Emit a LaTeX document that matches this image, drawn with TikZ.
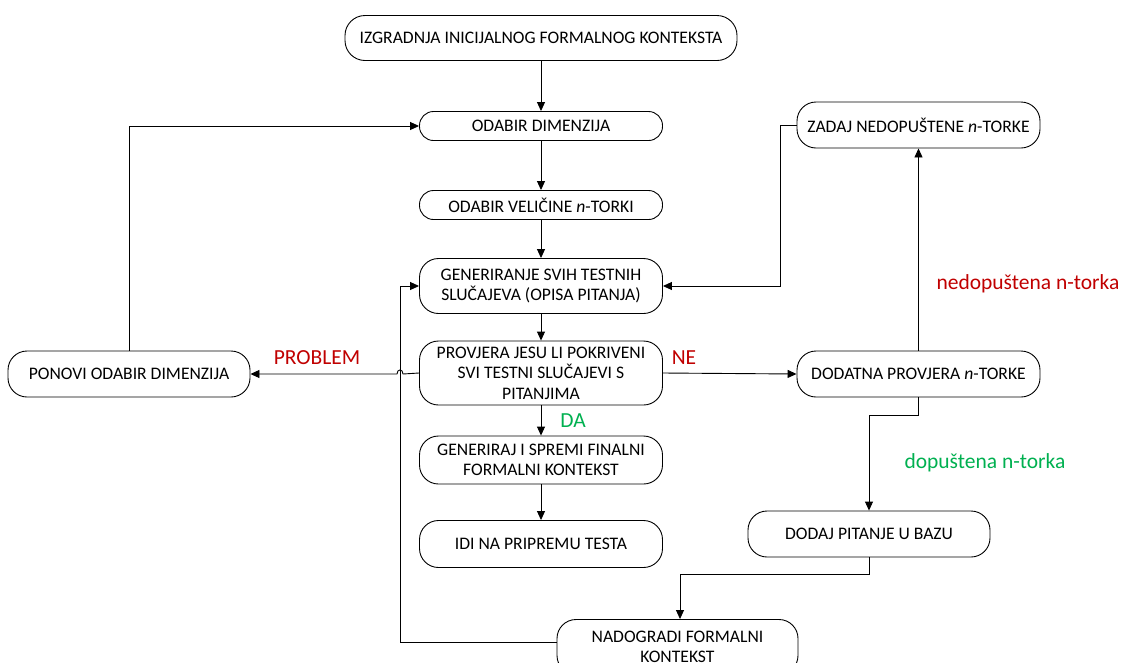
\documentclass[tikz,border=0pt]{standalone}
\usepackage{fontspec}
\setmainfont{Carlito}
\usetikzlibrary{arrows.meta}
\definecolor{lred}{HTML}{C00000}
\definecolor{lgreen}{HTML}{00B050}
\begin{document}
\begin{tikzpicture}[x=1pt,y=-1pt,
  box/.style={draw,line width=0.9pt,rounded corners=14pt,align=center,inner sep=0pt,
    font=\fontsize{17.6}{20.5}\selectfont},
  tallbox/.style={box,rounded corners=19pt},
  conn/.style={line width=0.9pt},
  arr/.style={conn,-{Triangle[length=9pt,width=8pt]}},
  lab/.style={font=\fontsize{21.5}{24}\selectfont,inner sep=0pt}]
\useasboundingbox (0,0) rectangle (1121,662);
\node[box,minimum width=392pt,minimum height=45pt,rounded corners=20pt] (n1) at (541,38) {IZGRADNJA INICIJALNOG FORMALNOG KONTEKSTA};
\node[box,minimum width=243pt,minimum height=29pt] (n2) at (541,126) {ODABIR DIMENZIJA};
\node[box,minimum width=243pt,minimum height=29pt] (n3) at (541,205) {ODABIR VELIČINE \textit{n}-TORKI};
\node[tallbox,minimum width=243pt,minimum height=55pt] (n4) at (541,286) {GENERIRANJE SVIH TESTNIH\\SLUČAJEVA (OPISA PITANJA)};
\node[tallbox,minimum width=243pt,minimum height=64pt] (n5) at (541,373) {PROVJERA JESU LI POKRIVENI\\SVI TESTNI SLUČAJEVI S\\PITANJIMA};
\node[tallbox,minimum width=243pt,minimum height=48pt] (n6) at (541,460) {GENERIRAJ I SPREMI FINALNI\\FORMALNI KONTEKST};
\node[tallbox,minimum width=243pt,minimum height=47pt] (n7) at (541,544) {IDI NA PRIPREMU TESTA};
\node[tallbox,minimum width=241pt,minimum height=55pt] (n8) at (677.5,647) {NADOGRADI FORMALNI\\KONTEKST};
\node[tallbox,minimum width=242pt,minimum height=46pt] (n9) at (129,374) {PONOVI ODABIR DIMENZIJA};
\node[tallbox,minimum width=243pt,minimum height=46pt] (n10) at (918.5,125) {ZADAJ NEDOPUŠTENE \textit{n}-TORKE};
\node[tallbox,minimum width=243pt,minimum height=46pt] (n11) at (918.5,374) {DODATNA PROVJERA \textit{n}-TORKE};
\node[tallbox,minimum width=242pt,minimum height=46pt] (n12) at (869,534) {DODAJ PITANJE U BAZU};

\coordinate (h1) at (403,374);
\coordinate (h2) at (397,374);
\coordinate (c1) at (129,126);
\coordinate (c2) at (780,125);
\coordinate (c3) at (780,286);
\coordinate (c4) at (918.5,415);
\coordinate (c5) at (869,415);
\coordinate (c6) at (869,574);
\coordinate (c7) at (680,574);
\coordinate (c8) at (400,642);
\coordinate (c9) at (400,286);

\draw[arr] (n1) -- (n2);
\draw[arr] (n2) -- (n3);
\draw[arr] (n3) -- (n4);
\draw[arr] (n4) -- (n5);
\draw[arr] (n5) -- node[lab,text=lgreen,right=19pt,pos=0.5]{DA} (n6);
\draw[arr] (n6) -- (n7);
\draw[arr] (n5.west) -- (h1) .. controls (403,368.5) and (397,368.5) .. (h2) -- (n9.east);
\draw[arr] (n9.north) -- (c1) -- (n2.west);
\draw[arr] (n5.east) -- (n11.west);
\draw[arr] (n11.north) -- (n10.south);
\draw[arr] (n10.west) -- (c2) -- (c3) -- (n4.east);
\draw[arr] (n11.south) -- (c4) -- (c5) -- (n12.north);
\draw[arr] (n12.south) -- (c6) -- (c7) -- (c7 |- n8.north);
\draw[arr] (c8 -| n8.west) -- (c8) -- (c9) -- (n4.west);

\node[lab,text=lred] (lp) at (317,358) {PROBLEM};
\node[lab,text=lred] (ln) at (684,358) {NE};
\node[lab,text=lred] (lnd) at (1028,284) {nedopuštena n-torka};
\node[lab,text=lgreen] (ld) at (985,463) {dopuštena n-torka};
\end{tikzpicture}
\end{document}
